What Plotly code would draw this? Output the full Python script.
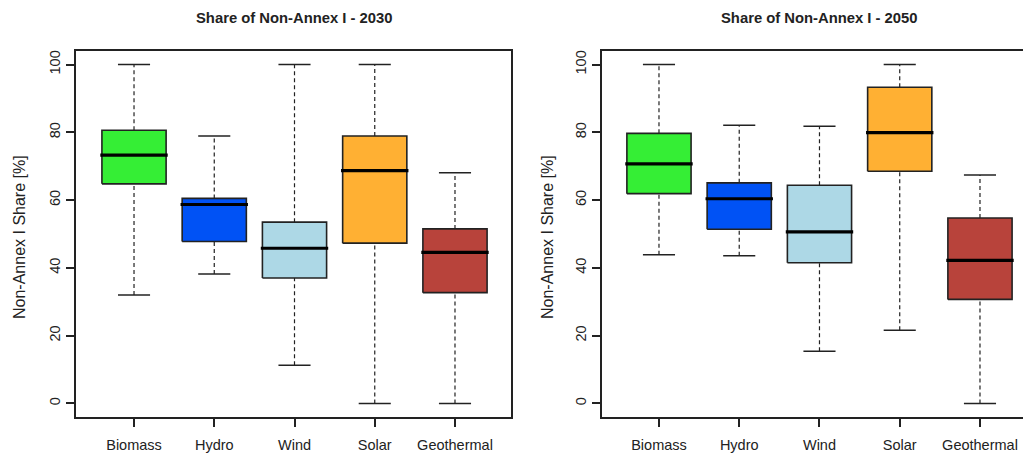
import plotly.graph_objects as go

categories = ["Biomass", "Hydro", "Wind", "Solar", "Geothermal"]
colors = ["#35EE35", "#0052F5", "#ADD8E6", "#FFB033", "#B8433B"]

# 2030
lo_2030 = [32.0, 38.2, 11.3, 0.0, 0.0]
q1_2030 = [64.8, 47.8, 37.0, 47.3, 32.7]
med_2030 = [73.3, 58.7, 45.8, 68.7, 44.6]
q3_2030 = [80.6, 60.5, 53.5, 78.9, 51.5]
hi_2030 = [100.0, 78.9, 100.0, 100.0, 68.1]

# 2050
lo_2050 = [43.9, 43.6, 15.4, 21.6, 0.0]
q1_2050 = [61.9, 51.4, 41.5, 68.5, 30.7]
med_2050 = [70.7, 60.4, 50.6, 79.9, 42.2]
q3_2050 = [79.7, 65.1, 64.4, 93.3, 54.7]
hi_2050 = [100.0, 82.1, 81.8, 100.0, 67.4]

titles = ["Share of Non-Annex I - 2030", "Share of Non-Annex I - 2050"]
y_title = "Non-Annex I Share [%]"
y_ticks = [0, 20, 40, 60, 80, 100]

BOX_HALF = 0.4
CAP_HALF = 0.2
FONT = "Liberation Sans, Arial, sans-serif"
INK = "#222222"

fig = go.Figure()

panels = [
    (lo_2030, q1_2030, med_2030, q3_2030, hi_2030, "x", "y"),
    (lo_2050, q1_2050, med_2050, q3_2050, hi_2050, "x2", "y2"),
]

for lo, q1, med, q3, hi, xa, ya in panels:
    for i, cat in enumerate(categories):
        pos = i + 1
        # whiskers (dashed)
        for a, b in ((lo[i], q1[i]), (q3[i], hi[i])):
            fig.add_trace(go.Scatter(
                x=[pos, pos], y=[a, b], mode="lines",
                line=dict(color=INK, width=1.2, dash="4px,3px"),
                xaxis=xa, yaxis=ya, showlegend=False, hoverinfo="skip"))
        # caps
        for v in (lo[i], hi[i]):
            fig.add_trace(go.Scatter(
                x=[pos - CAP_HALF, pos + CAP_HALF], y=[v, v], mode="lines",
                line=dict(color=INK, width=1.5),
                xaxis=xa, yaxis=ya, showlegend=False, hoverinfo="skip"))
        # box
        fig.add_trace(go.Scatter(
            x=[pos - BOX_HALF, pos + BOX_HALF, pos + BOX_HALF, pos - BOX_HALF, pos - BOX_HALF],
            y=[q1[i], q1[i], q3[i], q3[i], q1[i]],
            mode="lines", fill="toself", fillcolor=colors[i],
            line=dict(color=INK, width=1.6),
            xaxis=xa, yaxis=ya, showlegend=False, name=cat))
        # median
        fig.add_trace(go.Scatter(
            x=[pos - BOX_HALF - 0.02, pos + BOX_HALF + 0.02], y=[med[i], med[i]], mode="lines",
            line=dict(color="#000000", width=3.2),
            xaxis=xa, yaxis=ya, showlegend=False, hoverinfo="skip"))

W, H = 1023, 454
y_dom = [(H - 417) / H, (H - 51) / H]

axis_common = dict(
    showgrid=False, zeroline=False, showline=True, linecolor=INK, linewidth=1.5,
    ticks="outside", ticklen=8, tickwidth=1.5, tickcolor=INK,
    tickfont=dict(family=FONT, size=14.5, color=INK),
)

def ann(text, x, y, size, angle=0):
    return dict(text=text, x=x / W, y=(H - y) / H, xref="paper", yref="paper",
                xanchor="center", yanchor="middle", showarrow=False, textangle=angle,
                font=dict(family=FONT, size=size, color=INK))

fig.update_layout(
    width=W, height=H,
    margin=dict(l=0, r=0, t=0, b=0),
    paper_bgcolor="white", plot_bgcolor="white",
    xaxis=dict(domain=[76 / W, 511 / W], range=[0.277, 5.698], anchor="y",
               tickvals=[1, 2, 3, 4, 5], ticktext=categories, mirror=True,
               ticklabelstandoff=6, **axis_common),
    yaxis=dict(domain=y_dom, range=[-4, 104], anchor="x", tickvals=y_ticks,
               tickangle=-90, mirror=True, **axis_common),
    xaxis2=dict(domain=[602 / W, 1.0], range=[0.29, 5.536], anchor="y2",
                tickvals=[1, 2, 3, 4, 5], ticktext=categories, mirror=True,
                ticklabelstandoff=6, **axis_common),
    yaxis2=dict(domain=y_dom, range=[-4, 104], anchor="x2", tickvals=y_ticks,
                tickangle=-90, mirror=False, **axis_common),
    annotations=[
        ann("<b>" + titles[0] + "</b>", 294, 18, 14.8),
        ann("<b>" + titles[1] + "</b>", 819, 18, 14.8),
        ann(y_title, 20, 237, 16, -90),
        ann(y_title, 548, 237, 16, -90),
    ],
)

fig.write_html("out.html", config={"displayModeBar": False},
               post_script="document.body.style.margin='0px';")
